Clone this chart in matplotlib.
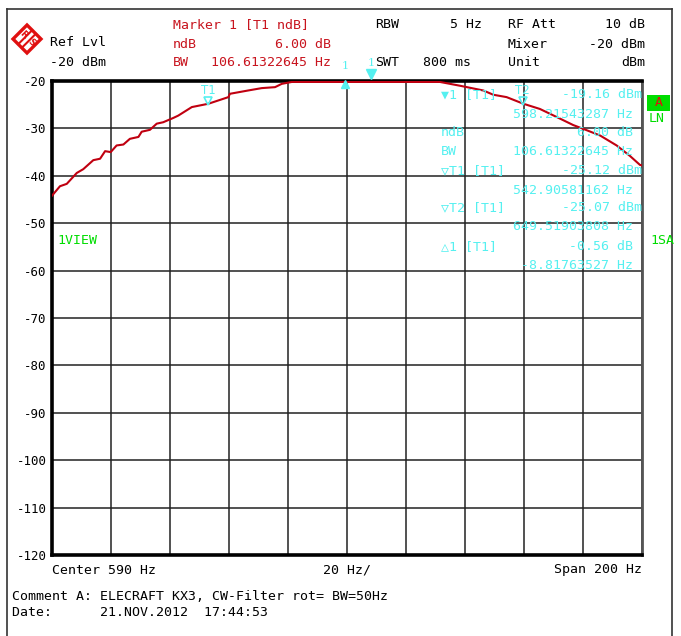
import numpy as np
import matplotlib
matplotlib.use('Agg')
import matplotlib.pyplot as plt
from matplotlib.patches import Polygon, Rectangle
from matplotlib.lines import Line2D
import matplotlib.transforms as mtransforms

# ---------------- data ----------------
center_hz = 590
span_hz = 200
freq_hz = [490.0, 492.7, 495.0, 498.4, 500.6, 504.0, 506.3, 508.0, 509.9, 511.9,
           514.2, 516.4, 519.3, 520.4, 523.2, 525.5, 527.7, 531.1, 532.8, 537.4,
           543.0, 549.8, 550.3, 556.5, 561.1, 565.6, 567.9, 571.3, 573.4, 580.0,
           590.0, 600.0, 610.0, 621.5, 628.3, 636.2, 639.6, 644.1, 649.8, 655.4,
           661.1, 666.7, 670.1, 675.8, 681.4, 685.9, 689.3, 690.0]
level_dbm = [-44.2, -42.2, -41.7, -39.4, -38.6, -36.7, -36.4, -34.8, -35.0, -33.6,
             -33.4, -32.2, -31.8, -30.7, -30.3, -29.0, -28.7, -27.8, -27.3, -25.5,
             -24.8, -23.4, -22.7, -22.0, -21.5, -21.3, -20.6, -20.2, -20.2, -20.2,
             -20.2, -20.2, -20.2, -20.2, -21.0, -22.0, -22.9, -23.4, -24.8, -25.9,
             -27.6, -29.3, -30.1, -31.5, -33.6, -35.8, -37.7, -37.8]
y_ticks = [-20, -30, -40, -50, -60, -70, -80, -90, -100, -110, -120]

marker1_hz, marker1_dbm = 598.21543287, -19.16
t1_hz, t1_dbm = 542.90581162, -25.12
t2_hz, t2_dbm = 649.51903808, -25.07
delta1_hz, delta1_db = -8.81763527, -0.56

W, H = 681, 636
MONO = 'DejaVu Sans Mono'
RED_T = '#c8141e'
CYAN = '#55f0f0'
GREEN = '#00dd00'

fig = plt.figure(figsize=(W / 100, H / 100), dpi=100)
fig.patch.set_facecolor('white')


def T(x, y, s, color='black', ha='left', size=9.5, **kw):
    return fig.text(x / W, 1 - y / H, s, color=color, ha=ha, va='center',
                    family=MONO, fontsize=size, **kw)


def P(x, y):
    return (x / W, 1 - y / H)


# outer frame
for (x0, y0, x1, y1) in [(7, 9, 672, 9), (7, 9, 7, 636), (672, 9, 672, 636)]:
    fig.add_artist(Line2D([x0 / W, x1 / W], [1 - y0 / H, 1 - y1 / H],
                          transform=fig.transFigure, color='#333333', lw=1.2))

# logo (R&S style diamond)
cx, cy, r = 27, 39, 14
fig.add_artist(Polygon([P(cx - r, cy), P(cx, cy - r), P(cx + r, cy), P(cx, cy + r)],
                       closed=True, transform=fig.transFigure, facecolor='white',
                       edgecolor='#e01010', lw=2.4))
for d in (-1.8, 1.8):
    fig.add_artist(Line2D([(cx - r / 2 + d) / W, (cx + r / 2 + d) / W],
                          [1 - (cy + r / 2 + d) / H, 1 - (cy - r / 2 + d) / H],
                          transform=fig.transFigure, color='#e01010', lw=1.5))
fig.text((cx - 4) / W, 1 - (cy - 4) / H, 'R', color='#e01010', fontsize=6.5,
         weight='bold', ha='center', va='center', family='DejaVu Sans', rotation=-45)
fig.text((cx + 4) / W, 1 - (cy + 4) / H, 'S', color='#e01010', fontsize=6.5,
         weight='bold', ha='center', va='center', family='DejaVu Sans', rotation=-45)

# header
T(50, 43, 'Ref Lvl')
T(50, 63, '-20 dBm')
T(173, 25, 'Marker 1 [T1 ndB]', color=RED_T)
T(173, 44, 'ndB', color=RED_T)
T(331, 44, '6.00 dB', color=RED_T, ha='right')
T(173, 63, 'BW', color=RED_T)
T(331, 63, '106.61322645 Hz', color=RED_T, ha='right')
T(375, 25, 'RBW')
T(482, 25, '5 Hz', ha='right')
T(375, 63, 'SWT')
T(423, 63, '800 ms')
T(508, 25, 'RF Att')
T(508, 44, 'Mixer')
T(508, 63, 'Unit')
T(645, 25, '10 dB', ha='right')
T(645, 44, '-20 dBm', ha='right')
T(645, 63, 'dBm', ha='right')

# main axes
ax = fig.add_axes([52 / W, 1 - 555 / H, 590 / W, 474 / H])
ax.set_xlim(center_hz - span_hz / 2, center_hz + span_hz / 2)
ax.set_ylim(y_ticks[-1], y_ticks[0])
ax.set_xticks(np.linspace(center_hz - span_hz / 2, center_hz + span_hz / 2, 11))
ax.set_xticklabels([])
ax.set_yticks(y_ticks)
ax.set_yticklabels([str(v) for v in y_ticks], family=MONO, fontsize=9)
ax.tick_params(length=0, pad=4)
ax.grid(True, color='#222222', lw=1.1)
ax.set_axisbelow(True)
for s in ax.spines.values():
    s.set_linewidth(2.6)
    s.set_color('black')
ax.spines['right'].set_color('#555555')
ax.spines['right'].set_linewidth(2.0)

ax.plot(freq_hz, level_dbm, color='#c00010', lw=1.5, zorder=3)

# markers
def off(dx, dy):
    return mtransforms.offset_copy(ax.transData, fig=fig, x=dx, y=dy, units='points')

ax.plot([marker1_hz], [marker1_dbm], marker='v', ms=6.5, color=CYAN, clip_on=False,
        transform=off(0, 2), zorder=5)
ax.text(marker1_hz, marker1_dbm, '1', color=CYAN, ha='center', va='center',
        fontsize=8, family='DejaVu Serif', transform=off(0, 10), clip_on=False)
d_hz = marker1_hz + delta1_hz
ax.plot([d_hz], [-20], marker='^', ms=6, mfc=CYAN, mec=CYAN, clip_on=False,
        transform=off(0, -2.5), zorder=5)
ax.text(d_hz, -20, '1', color=CYAN, ha='center', va='center', fontsize=8,
        family='DejaVu Serif', transform=off(0, 11), clip_on=False)
for name, fx, fy in [('T1', t1_hz, t1_dbm), ('T2', t2_hz, t2_dbm)]:
    ax.plot([fx], [fy], marker='v', ms=6, mfc='none', mec=CYAN, mew=1.2,
            transform=off(0, 3.2), zorder=5)
    ax.text(fx, fy, name, color=CYAN, ha='center', va='center', fontsize=8.5,
            family='DejaVu Sans', transform=off(0, 10.5))

# marker info block (cyan)
rows = [
    (95, '\u25bc1 [T1]', '%.2f dBm' % marker1_dbm, 642),
    (114, None, '%.8f Hz' % marker1_hz, 633),
    (133, 'ndB', '6.00 dB', 633),
    (152, 'BW', '106.61322645 Hz', 633),
    (171, '\u25bdT1 [T1]', '%.2f dBm' % t1_dbm, 642),
    (190, None, '%.8f Hz' % t1_hz, 633),
    (208, '\u25bdT2 [T1]', '%.2f dBm' % t2_dbm, 642),
    (227, None, '%.8f Hz' % t2_hz, 633),
    (247, '\u25b31 [T1]', '%.2f dB' % delta1_db, 633),
    (265, None, '%.8f Hz' % delta1_hz, 633),
]
for y, left, right, xr in rows:
    if left:
        T(441, y, left, color=CYAN, zorder=6)
    T(xr, y, right, color=CYAN, ha='right', zorder=6)

# side labels
T(57, 240, '1VIEW', color=GREEN)
T(650, 240, '1SA', color=GREEN)
fig.add_artist(Rectangle(P(647, 111), 23 / W, 16 / H, transform=fig.transFigure,
                         facecolor=GREEN, edgecolor='none'))
T(658.5, 103, 'A', color='#e01010', ha='center')
T(649, 118, 'LN', color=GREEN)

# footer
T(52, 570, 'Center 590 Hz')
T(347, 570, '20 Hz/', ha='center')
T(642, 570, 'Span 200 Hz', ha='right')
T(12, 597, 'Comment A: ELECRAFT KX3, CW-Filter rot= BW=50Hz')
T(12, 612, 'Date:      21.NOV.2012  17:44:53')

fig.savefig('out.png', dpi=100)
